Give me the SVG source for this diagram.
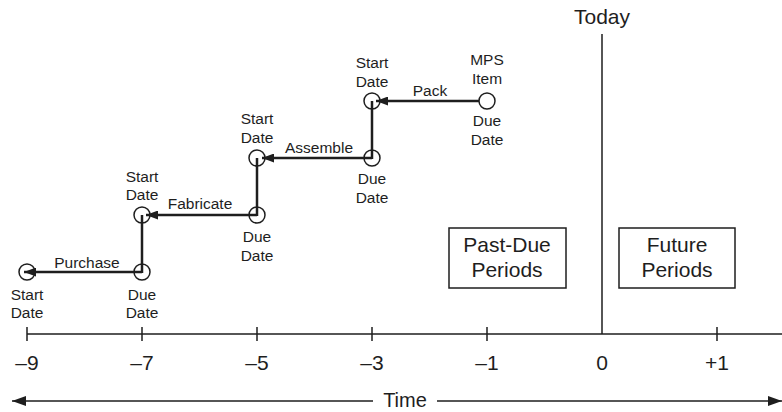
<svg xmlns="http://www.w3.org/2000/svg" width="782" height="412" viewBox="0 0 782 412">
<defs>
<style>
text{font-family:"Liberation Sans",Arial,sans-serif;fill:#1e1e1e;text-anchor:middle}
.lb{font-size:15.5px}
.big{font-size:21px}
.tm{font-size:20px}
.nd{fill:none;stroke:#1e1e1e;stroke-width:1.5}
.cn{fill:none;stroke:#1e1e1e;stroke-width:2.5}
.ax{fill:none;stroke:#1e1e1e;stroke-width:1.5}
.bx{fill:#fff;stroke:#1e1e1e;stroke-width:1.5}
</style>
<marker id="ah" viewBox="0 0 12 9" markerWidth="12" markerHeight="9" refX="12" refY="4.5" orient="auto" markerUnits="userSpaceOnUse">
<path d="M0,0 L12,4.5 L0,9 z" fill="#1e1e1e"/>
</marker>
<marker id="ta" viewBox="0 0 14 10" markerWidth="14" markerHeight="10" refX="14" refY="5" orient="auto-start-reverse" markerUnits="userSpaceOnUse">
<path d="M0,0 L14,5 L0,10 z" fill="#1e1e1e"/>
</marker>
</defs>
<rect width="782" height="412" fill="#fff"/>

<g id="connectors">
<line class="cn" x1="142" y1="272" x2="24" y2="272" marker-end="url(#ah)"/>
<line class="cn" x1="142" y1="273" x2="142" y2="215"/>
<line class="cn" x1="257" y1="215" x2="146" y2="215" marker-end="url(#ah)"/>
<line class="cn" x1="257" y1="216" x2="257" y2="158"/>
<line class="cn" x1="372" y1="158" x2="262" y2="158" marker-end="url(#ah)"/>
<line class="cn" x1="372" y1="159" x2="372" y2="101"/>
<line class="cn" x1="479" y1="101" x2="376" y2="101" marker-end="url(#ah)"/>
<text class="lb" x="87" y="268">Purchase</text>
<text class="lb" x="200" y="209">Fabricate</text>
<text class="lb" x="319" y="153">Assemble</text>
<text class="lb" x="430" y="96">Pack</text>
</g>

<g id="n1"><circle class="nd" cx="27" cy="272" r="8"/><text class="lb" x="27" y="300">Start</text><text class="lb" x="27" y="318">Date</text></g>
<g id="n2"><circle class="nd" cx="142" cy="272" r="8"/><text class="lb" x="142" y="300">Due</text><text class="lb" x="142" y="318">Date</text></g>
<g id="n3"><circle class="nd" cx="142" cy="215" r="8"/><text class="lb" x="142" y="182">Start</text><text class="lb" x="142" y="200">Date</text></g>
<g id="n4"><circle class="nd" cx="257" cy="215" r="8"/><text class="lb" x="257" y="242">Due</text><text class="lb" x="257" y="261">Date</text></g>
<g id="n5"><circle class="nd" cx="257" cy="158" r="8"/><text class="lb" x="257" y="124">Start</text><text class="lb" x="257" y="143">Date</text></g>
<g id="n6"><circle class="nd" cx="372" cy="158" r="8"/><text class="lb" x="372" y="184">Due</text><text class="lb" x="372" y="203">Date</text></g>
<g id="n7"><circle class="nd" cx="372" cy="101" r="8"/><text class="lb" x="372" y="68">Start</text><text class="lb" x="372" y="87">Date</text></g>
<g id="n8"><circle class="nd" cx="487" cy="101" r="8"/><text class="lb" x="487" y="65">MPS</text><text class="lb" x="487" y="84">Item</text><text class="lb" x="487" y="126">Due</text><text class="lb" x="487" y="145">Date</text></g>

<g id="today">
<line class="ax" x1="602" y1="34" x2="602" y2="334"/>
<text class="big" x="602" y="24">Today</text>
</g>

<g id="pastdue"><rect class="bx" x="449" y="228" width="117" height="60"/><text class="big" x="507" y="252">Past-Due</text><text class="big" x="507" y="277">Periods</text></g>
<g id="future"><rect class="bx" x="619" y="228" width="116" height="60"/><text class="big" x="677" y="252">Future</text><text class="big" x="677" y="277">Periods</text></g>

<g id="axis">
<line class="ax" x1="27" y1="334" x2="782" y2="334"/>
<line class="ax" x1="27" y1="327" x2="27" y2="341"/>
<line class="ax" x1="142" y1="327" x2="142" y2="341"/>
<line class="ax" x1="257" y1="327" x2="257" y2="341"/>
<line class="ax" x1="372" y1="327" x2="372" y2="341"/>
<line class="ax" x1="487" y1="327" x2="487" y2="341"/>
<line class="ax" x1="717" y1="327" x2="717" y2="341"/>
<text class="big" x="27" y="370">–9</text>
<text class="big" x="142" y="370">–7</text>
<text class="big" x="257" y="370">–5</text>
<text class="big" x="372" y="370">–3</text>
<text class="big" x="487" y="370">–1</text>
<text class="big" x="602" y="370">0</text>
<text class="big" x="717" y="370">+1</text>
</g>

<g id="time">
<line class="ax" x1="373" y1="401" x2="12" y2="401" marker-end="url(#ta)"/>
<line class="ax" x1="437" y1="401" x2="782" y2="401" marker-end="url(#ta)"/>
<text class="tm" x="405" y="407">Time</text>
</g>
</svg>
